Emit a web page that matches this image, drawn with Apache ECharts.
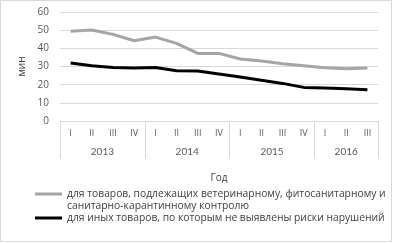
<!DOCTYPE html>
<html>
<head>
<meta charset="utf-8">
<script src="https://cdn.jsdelivr.net/npm/echarts@6/dist/echarts.min.js"></script>
<style>
  html, body { margin: 0; padding: 0; background: #fff; }
  #chart { width: 393px; height: 243px; }
</style>
</head>
<body>
<div id="chart"></div>
<script>
const quarters = ["I", "II", "III", "IV", "I", "II", "III", "IV", "I", "II", "III", "IV", "I", "II", "III"];
const years = ["2013", "2014", "2015", "2016"];
const yearTicks = [0, 4, 8, 12, 15];        // year separators, in quarters
const yearCenters = [2, 6, 10, 13.5];       // year label positions, in quarters
const vetControl = [49.4, 50.1, 47.7, 44.2, 46.2, 42.7, 37.2, 37.2, 34.1, 33.0, 31.5, 30.4, 29.3, 28.8, 29.2];
const otherGoods = [31.9, 30.4, 29.5, 29.2, 29.5, 27.7, 27.5, 25.9, 24.2, 22.4, 20.7, 18.5, 18.2, 17.8, 17.2];
const yTicks = [0, 60, 10];

const nameVet = "для товаров, подлежащих ветеринарному, фитосанитарному и";
const nameVet2 = "санитарно-карантинному контролю";
const nameOther = "для иных товаров, по которым не выявлены риски нарушений";

const font = "Open Sans";
const muted = "#595959";
const dark = "#404040";
const grid = "#d9d9d9";

// year axis: half-quarter slots 0..15 step 0.5, so separators and centers land on slots
const yearSlots = [];
for (let k = 0; k <= quarters.length * 2; k++) {
  const i = yearCenters.indexOf(k / 2);
  yearSlots.push(i >= 0 ? years[i] : "·" + k);
}
const tickSlots = yearTicks.map((v) => v * 2);
const labelSlots = yearCenters.map((v) => v * 2);

// legend icons: a 3px bar, with tiny corner dots fixing the box so the bar sits where we want it
const iconTwoLines = "path://M0,0 L0.05,0 L0.05,0.05 Z M4,4.6 L31,4.6 L31,7.6 L4,7.6 Z M31,24.6 L30.95,24.6 L30.95,24.55 Z";
const iconOneLine = "path://M0,0 L0.05,0 L0.05,0.05 Z M4,4.5 L31,4.5 L31,7.5 L4,7.5 Z M31,12 L30.95,12 L30.95,11.95 Z";

const chart = echarts.init(document.getElementById("chart"), null, { renderer: "canvas" });
chart.setOption({
  animation: false,
  textStyle: { fontFamily: font },
  grid: { left: 60, right: 15, top: 12, bottom: 122 },
  xAxis: [
    {
      type: "category",
      data: quarters,
      boundaryGap: true,
      axisLine: { lineStyle: { color: grid } },
      axisTick: { show: false },
      axisLabel: { color: muted, fontSize: 9, fontFamily: font, margin: 8, interval: 0 },
    },
    {
      type: "category",
      position: "bottom",
      data: yearSlots,
      boundaryGap: false,
      axisLine: { show: false },
      splitLine: { show: false },
      axisTick: {
        show: true,
        length: 38,
        interval: (i) => tickSlots.includes(i),
        lineStyle: { color: grid },
      },
      axisLabel: {
        color: muted,
        fontSize: 10,
        fontFamily: "Lato",
        margin: 26,
        interval: (i) => labelSlots.includes(i),
      },
      name: "Год",
      nameLocation: "middle",
      nameGap: 52,
      nameTextStyle: { color: dark, fontSize: 10, fontFamily: font },
    },
  ],
  yAxis: {
    type: "value",
    min: yTicks[0],
    max: yTicks[1],
    interval: yTicks[2],
    axisLine: { show: false },
    axisTick: { show: false },
    splitLine: { lineStyle: { color: grid } },
    axisLabel: { color: muted, fontSize: 10, fontFamily: font, margin: 11 },
    name: "мин",
    nameLocation: "middle",
    nameRotate: 90,
    nameGap: 29,
    nameTextStyle: { color: dark, fontSize: 10, fontFamily: font },
  },
  legend: [
    {
      left: 31,
      top: 188,
      padding: 0,
      itemWidth: 31,
      itemHeight: 24.6,
      icon: iconTwoLines,
      data: [nameVet],
      formatter: () => nameVet + "\n" + nameVet2,
      textStyle: { color: dark, fontSize: 10.3, lineHeight: 12.3, fontFamily: font },
    },
    {
      left: 31,
      top: 212,
      padding: 0,
      itemWidth: 31,
      itemHeight: 12,
      icon: iconOneLine,
      data: [nameOther],
      textStyle: { color: dark, fontSize: 10.3, fontFamily: font },
    },
  ],
  graphic: [
    {
      type: "rect",
      shape: { x: 0.5, y: 0.5, width: 391, height: 241 },
      style: { fill: "none", stroke: grid, lineWidth: 1 },
      silent: true,
    },
  ],
  series: [
    {
      name: nameVet,
      type: "line",
      data: vetControl,
      symbol: "none",
      lineStyle: { color: "#a5a5a5", width: 3 },
      itemStyle: { color: "#a5a5a5" },
    },
    {
      name: nameOther,
      type: "line",
      data: otherGoods,
      symbol: "none",
      lineStyle: { color: "#000000", width: 3 },
      itemStyle: { color: "#000000" },
    },
  ],
});
</script>
</body>
</html>
